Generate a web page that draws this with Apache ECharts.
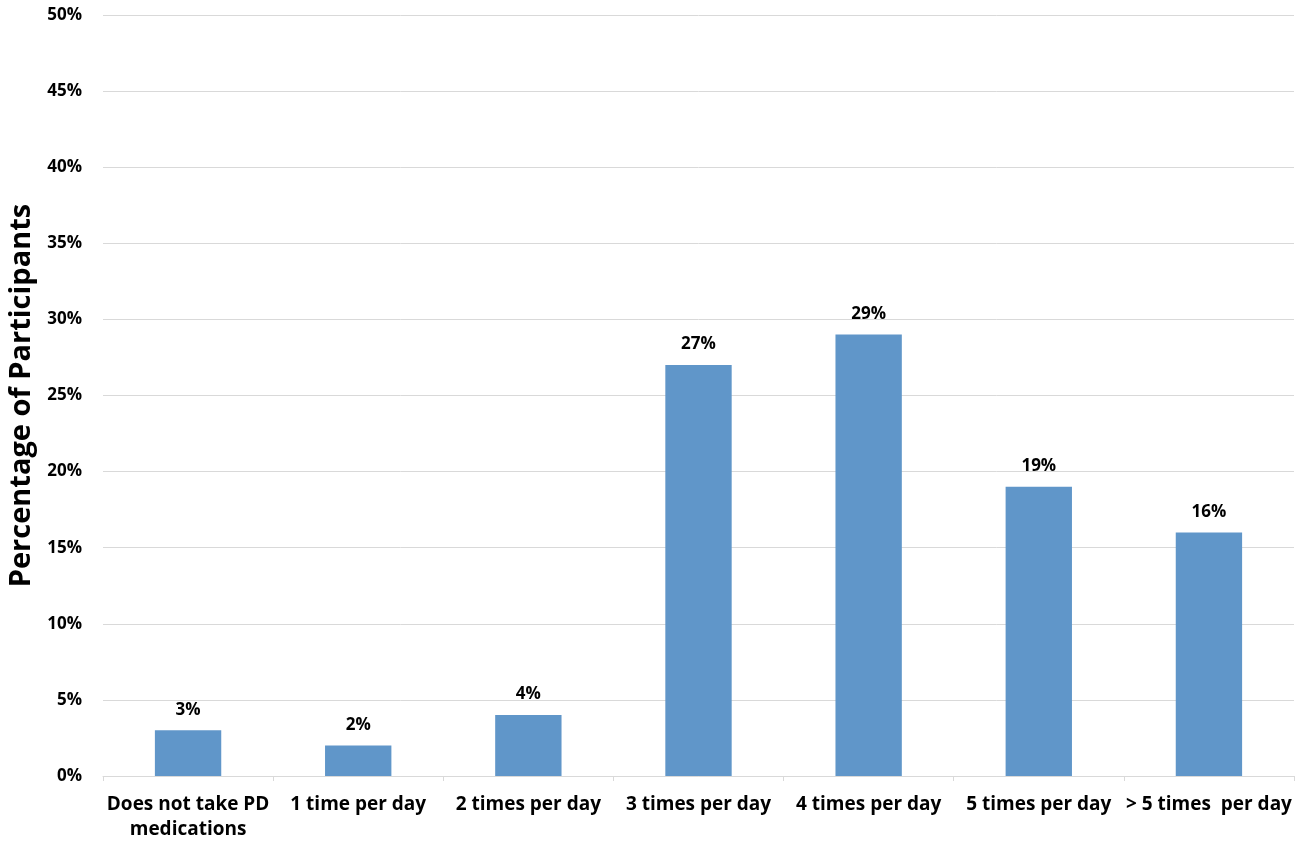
<!DOCTYPE html>
<html><head><meta charset="utf-8">
<script src="https://cdn.jsdelivr.net/npm/echarts@6/dist/echarts.min.js"></script>
<style>html,body{margin:0;padding:0;background:#fff}#c{width:1300px;height:842px}</style>
</head><body><div id="c"></div>
<script>
const categories = ['Does not take PD\nmedications','1 time per day','2 times per day','3 times per day','4 times per day','5 times per day','> 5 times  per day'];
const values = [3, 2, 4, 27, 29, 19, 16];
const yTitle = 'Percentage of Participants';
const font = '"Open Sans", "Liberation Sans", sans-serif';
const chart = echarts.init(document.getElementById('c'));
chart.setOption({
  animation: false,
  grid: {left: 103, right: 6, top: 15, bottom: 66, containLabel: false, outerBoundsMode: 'none'},
  xAxis: {
    type: 'category', data: categories,
    axisLine: {lineStyle: {color: '#d9d9d9', width: 1}},
    axisTick: {show: true, length: 5, lineStyle: {color: '#d9d9d9'}},
    axisLabel: {color: '#000', fontFamily: font, fontWeight: 'bold', fontSize: 19, margin: 16, lineHeight: 25, interval: 0}
  },
  yAxis: {
    type: 'value', min: 0, max: 50, interval: 5,
    name: yTitle, nameLocation: 'middle', nameGap: 58,
    nameTextStyle: {color: '#000', fontFamily: font, fontWeight: 'bold', fontSize: 29},
    axisLine: {show: false}, axisTick: {show: false},
    splitLine: {lineStyle: {color: '#d9d9d9', width: 1}},
    axisLabel: {color: '#000', fontFamily: font, fontWeight: 'bold', fontSize: 17, margin: 21, formatter: '{value}%'}
  },
  series: [{
    type: 'bar', data: values, barWidth: '39%',
    itemStyle: {color: '#6096c9'},
    label: {show: true, position: 'top', distance: 12, color: '#000', fontFamily: font, fontWeight: 'bold', fontSize: 17, formatter: '{c}%'}
  }]
});
</script></body></html>
